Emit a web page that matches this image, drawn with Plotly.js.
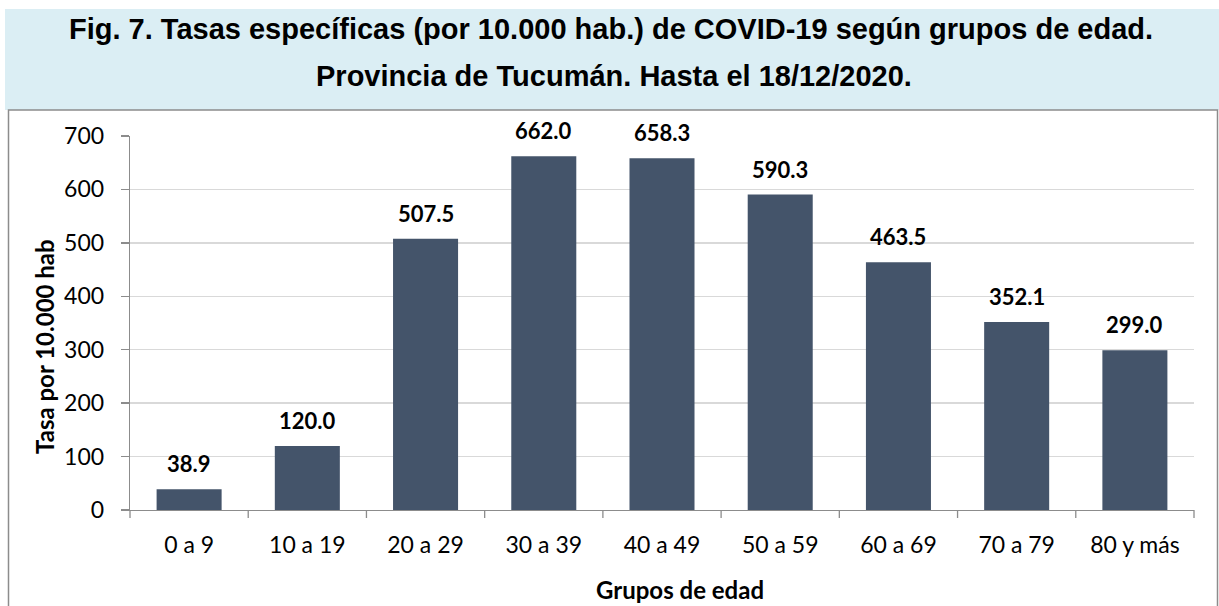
<!DOCTYPE html>
<html>
<head>
<meta charset="utf-8">
<script src="https://cdn.plot.ly/plotly-3.0.1.min.js"></script>
<style>
html,body{margin:0;padding:0;background:#fff;}
#chart{width:1219px;height:606px;}
</style>
</head>
<body>
<div id="chart"></div>
<script>
const categories = ["0 a 9","10 a 19","20 a 29","30 a 39","40 a 49","50 a 59","60 a 69","70 a 79","80 y más"];
const values = [38.9, 120.0, 507.5, 662.0, 658.3, 590.3, 463.5, 352.1, 299.0];
const yTicks = [0,100,200,300,400,500,600,700];
const titleLine1 = "Fig. 7. Tasas específicas (por 10.000 hab.) de COVID-19 según grupos de edad.";
const titleLine2 = "Provincia de Tucumán. Hasta el 18/12/2020.";
const yTitle = "Tasa por 10.000 hab";
const xTitle = "Grupos de edad";

const W = 1219, H = 606;
const L = 130, R = 25, T = 136, B = 96;
const pw = W - L - R, ph = H - T - B;
const px = x => (x - L) / pw;
const py = y => (H - B - y) / ph;

const tickFont = {family: "Lato, 'Open Sans', sans-serif", size: 23, color: "#000"};
const labelFont = {family: "Lato, 'Open Sans', sans-serif", size: 22, color: "#000", weight: 700};
const axTitleFont = {family: "Lato, 'Open Sans', sans-serif", size: 24, color: "#000", weight: 700};
const titleFont = {family: "'Liberation Sans', Arial, sans-serif", size: 29, color: "#000", weight: 700};

const labelAnnotations = categories.map((c, i) => ({
  x: c, y: values[i], xref: "x", yref: "y",
  text: "<b>" + values[i].toFixed(1) + "</b>",
  showarrow: false, yanchor: "bottom", yshift: 10,
  font: labelFont
}));

const data = [{
  type: "bar",
  x: categories,
  y: values,
  marker: {color: "#44546A", line: {width: 0}},
  hoverinfo: "skip"
}];

const layout = {
  width: W, height: H,
  margin: {l: L, r: R, t: T, b: B, pad: 0},
  paper_bgcolor: "#ffffff",
  plot_bgcolor: "#ffffff",
  bargap: 0.45,
  showlegend: false,
  xaxis: {
    type: "category",
    showgrid: false,
    showline: true, linecolor: "#8c8c8c", linewidth: 1.3,
    ticks: "", tickfont: tickFont,
    ticklabelstandoff: 14,
    zeroline: false
  },
  yaxis: {
    range: [0, 700],
    tickvals: yTicks,
    ticktext: yTicks.map(String),
    showgrid: true, gridcolor: "#d9d9d9", gridwidth: 1.3,
    showline: true, linecolor: "#8c8c8c", linewidth: 1.3,
    ticks: "outside", ticklen: 8, tickcolor: "#8c8c8c", tickwidth: 1.3,
    tickfont: tickFont,
    ticklabelstandoff: 12,
    zeroline: false
  },
  shapes: [
    {type: "rect", xref: "paper", yref: "paper", x0: px(5), x1: px(1219), y0: py(110), y1: py(9),
     fillcolor: "#dbeef4", line: {width: 0}, layer: "below"},
    {type: "rect", xref: "paper", yref: "paper", x0: px(8.5), x1: px(1217.5), y0: py(620), y1: py(110),
     fillcolor: "rgba(0,0,0,0)", line: {color: "#8c8c8c", width: 1.5}},
  ].concat(categories.map((c, i) => ({
    type: "line", xref: "paper", yref: "paper",
    x0: i / categories.length, x1: i / categories.length, y0: 0, y1: -8 / ph,
    line: {color: "#8c8c8c", width: 1.3}
  }))).concat([{
    type: "line", xref: "paper", yref: "paper", x0: 1, x1: 1, y0: 0, y1: -8 / ph,
    line: {color: "#8c8c8c", width: 1.3}
  }]),
  annotations: [
    {xref: "paper", yref: "paper", x: px(611), y: py(29), text: "<b>" + titleLine1 + "</b>",
     showarrow: false, xanchor: "center", yanchor: "middle", font: titleFont},
    {xref: "paper", yref: "paper", x: px(614), y: py(76), text: "<b>" + titleLine2 + "</b>",
     showarrow: false, xanchor: "center", yanchor: "middle", font: titleFont},
    {xref: "paper", yref: "paper", x: px(680), y: py(589), text: "<b>" + xTitle + "</b>",
     showarrow: false, xanchor: "center", yanchor: "middle", font: axTitleFont},
    {xref: "paper", yref: "paper", x: px(44), y: py(347), text: "<b>" + yTitle + "</b>",
     showarrow: false, xanchor: "center", yanchor: "middle", textangle: -90, font: axTitleFont}
  ].concat(labelAnnotations)
};

Plotly.newPlot("chart", data, layout, {displayModeBar: false, staticPlot: true});
</script>
</body>
</html>
